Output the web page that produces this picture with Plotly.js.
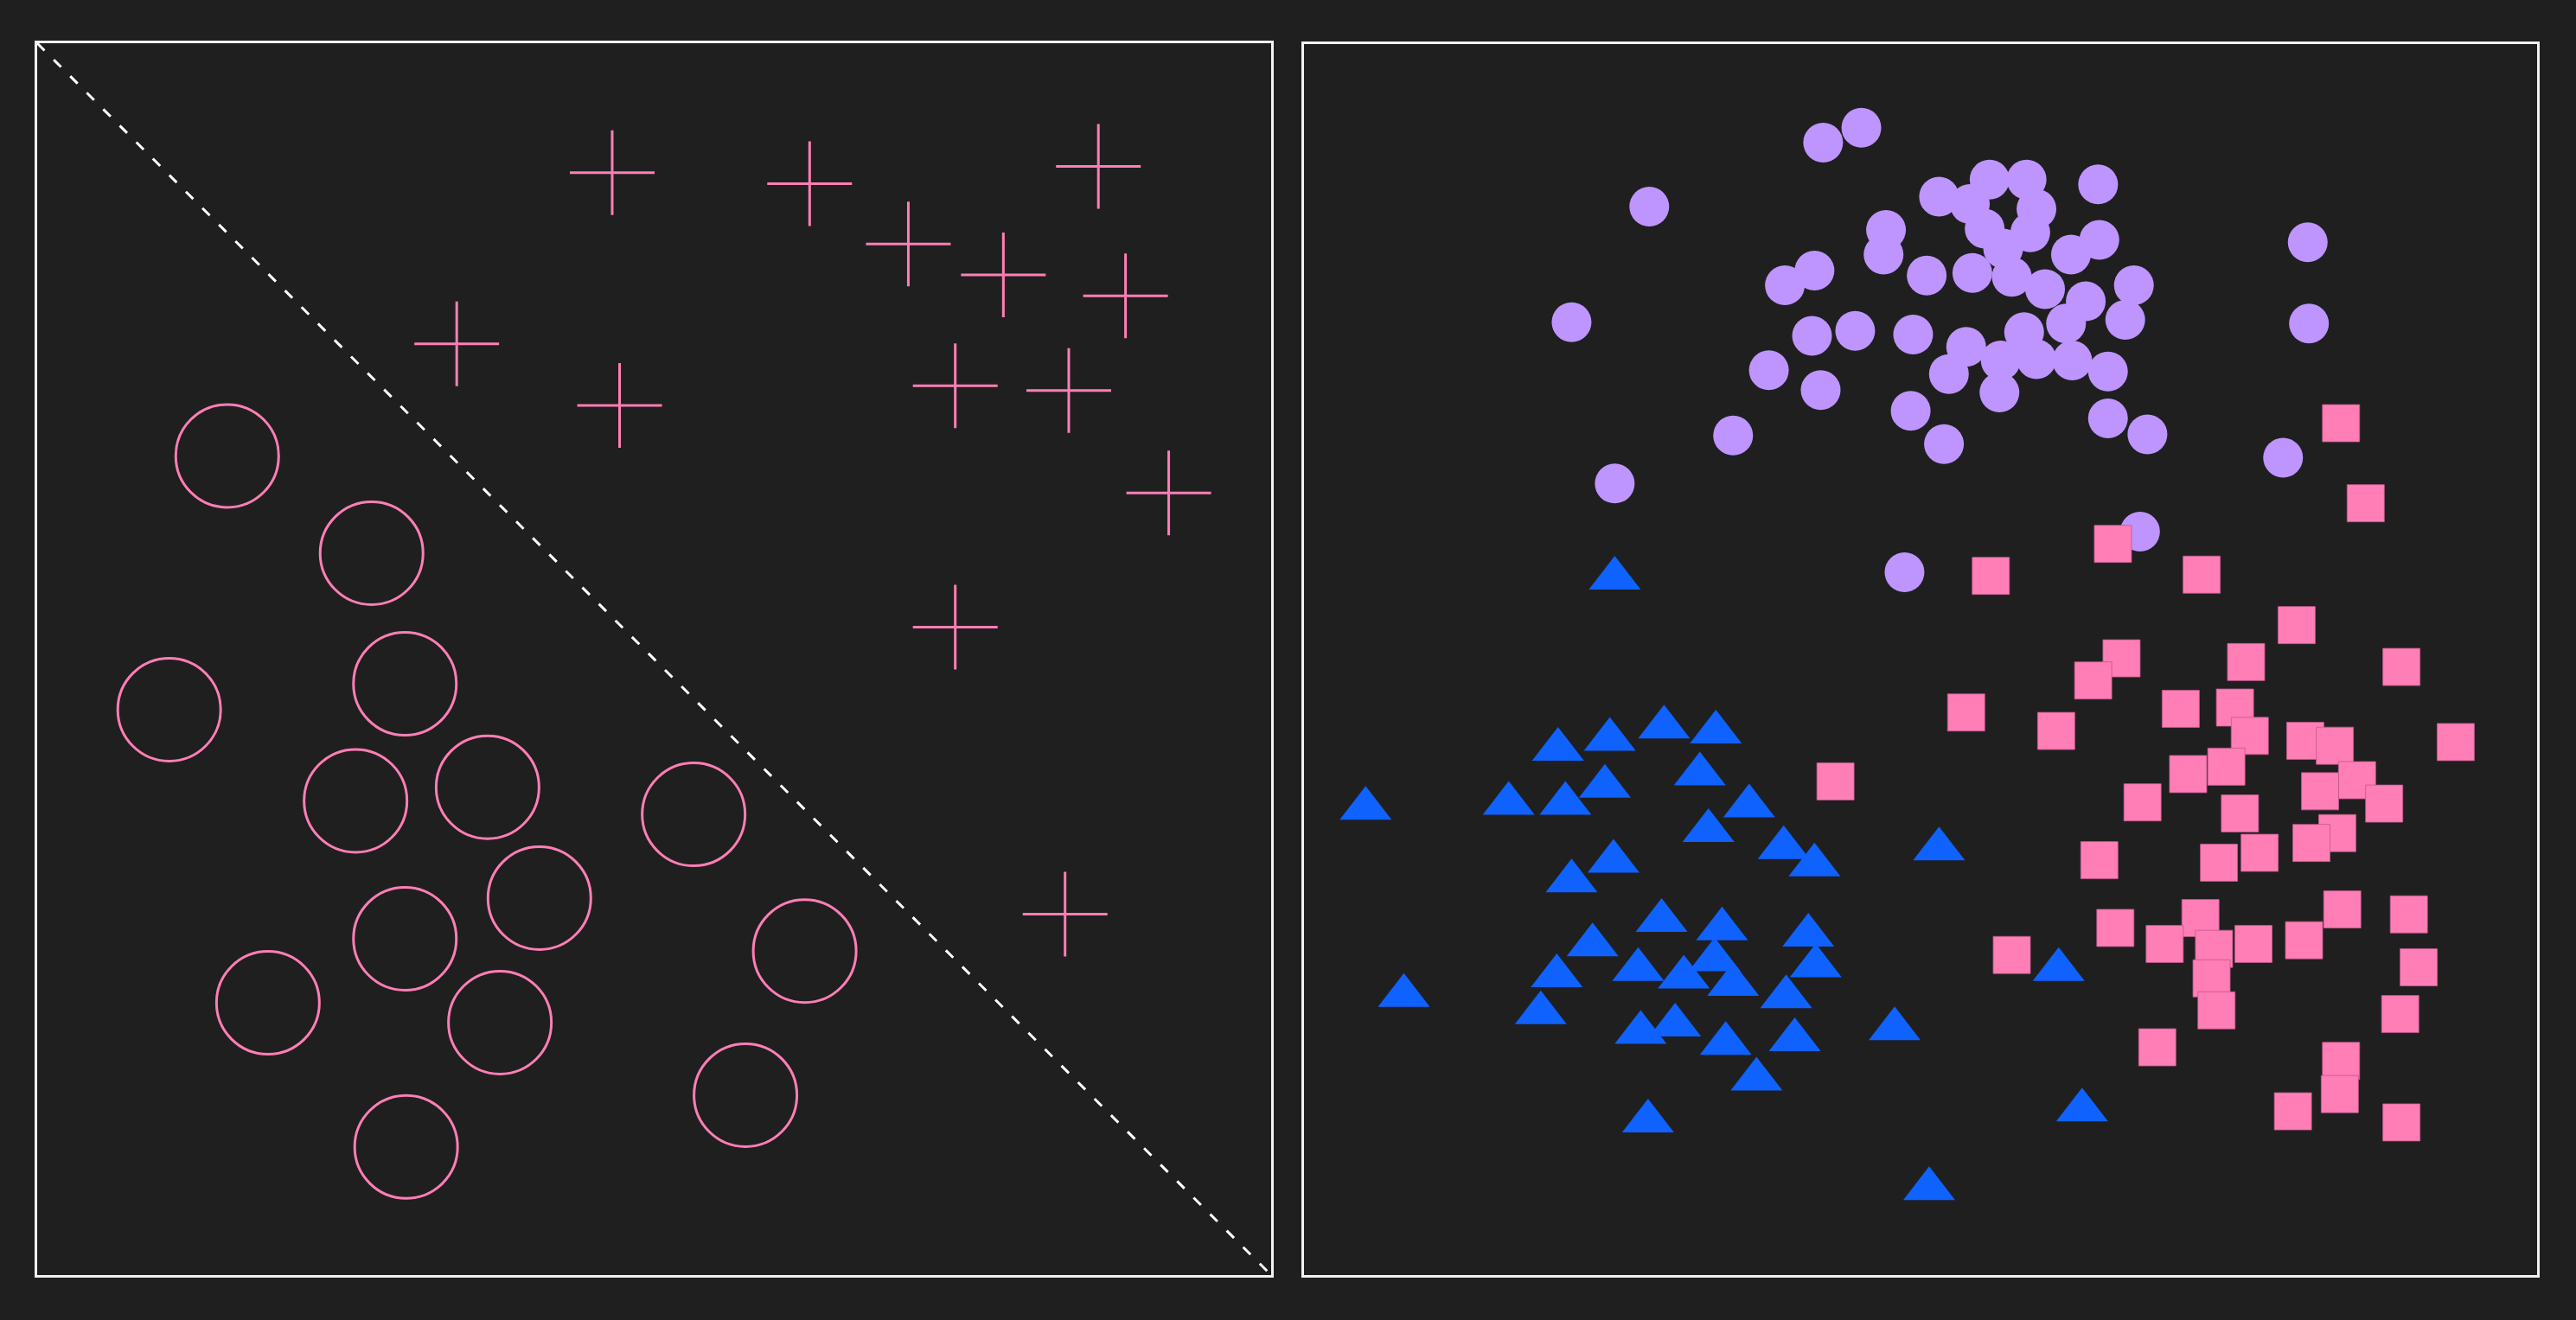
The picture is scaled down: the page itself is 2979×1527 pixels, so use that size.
<!DOCTYPE html>
<html>
<head>
<meta charset="utf-8">
<script src="https://cdn.plot.ly/plotly-3.0.1.min.js"></script>
<style>html,body{margin:0;padding:0;background:#1f1f1f;}#chart{width:2979px;height:1527px;}</style>
</head>
<body>
<div id="chart"></div>
<script>
// ---- Left panel: separable classes ----
const crossX = [4.66, 6.26, 8.60, 7.06, 7.83, 8.82, 3.40, 4.72, 7.44, 8.36, 9.17, 7.44, 8.33];
const crossY = [8.95, 8.86, 9.00, 8.37, 8.12, 7.95, 7.56, 7.06, 7.22, 7.18, 6.35, 5.26, 2.93];
const ringX  = [1.54, 2.71, 1.07, 2.98, 2.58, 3.65, 5.32, 4.07, 2.98, 1.87, 3.75, 6.22, 5.74, 2.99];
const ringY  = [6.65, 5.86, 4.59, 4.80, 3.85, 3.96, 3.74, 3.06, 2.73, 2.21, 2.05, 2.63, 1.46, 1.04];
const boundaryX = [0, 10];
const boundaryY = [10, 0];

// ---- Right panel: three clusters ----
const purpleX = [4.52, 4.21, 2.80, 5.56, 5.86, 5.15, 5.40, 6.44, 5.94, 4.72, 5.52, 5.89, 6.45, 5.67, 4.70, 6.22,
                 4.14, 3.90, 5.05, 5.42, 5.74, 6.01, 6.73, 6.34, 6.66, 6.18, 2.17, 4.12, 4.47, 4.94, 5.84, 5.37,
                 5.65, 5.94, 6.23, 5.23, 6.52, 3.77, 4.19, 5.64, 4.92, 6.52, 3.48, 5.19, 6.84, 8.14, 8.15, 7.94,
                 2.52, 6.78, 4.87];
const purpleY = [9.32, 9.20, 8.68, 8.90, 8.90, 8.76, 8.70, 8.86, 8.66, 8.49, 8.50, 8.47, 8.41, 8.34, 8.29, 8.29,
                 8.16, 8.04, 8.12, 8.14, 8.11, 8.01, 8.04, 7.91, 7.76, 7.73, 7.74, 7.63, 7.67, 7.64, 7.66, 7.54,
                 7.43, 7.44, 7.43, 7.32, 7.34, 7.35, 7.19, 7.17, 7.02, 6.96, 6.82, 6.75, 6.83, 8.39, 7.73, 6.64,
                 6.43, 6.04, 5.71];
const pinkX = [8.41, 8.61, 6.56, 5.57, 7.28, 8.05, 6.63, 6.40, 7.64, 8.90, 5.37, 6.10, 7.11, 7.55, 7.67, 8.12,
               8.36, 9.34, 7.17, 7.48, 8.54, 8.24, 8.76, 6.80, 7.59, 8.38, 8.17, 7.75, 7.42, 6.45, 8.42, 8.96,
               6.58, 7.27, 6.98, 7.38, 7.70, 8.11, 5.74, 9.04, 7.36, 7.40, 8.89, 6.92, 8.41, 8.40, 8.02, 8.90,
               4.31];
const pinkY = [6.92, 6.27, 5.94, 5.68, 5.69, 5.28, 5.01, 4.83, 4.98, 4.94, 4.57, 4.42, 4.60, 4.61, 4.38, 4.34,
               4.30, 4.33, 4.07, 4.13, 4.02, 3.93, 3.83, 3.84, 3.75, 3.59, 3.51, 3.43, 3.35, 3.37, 2.97, 2.93,
               2.82, 2.90, 2.69, 2.65, 2.69, 2.72, 2.60, 2.50, 2.41, 2.15, 2.12, 1.85, 1.74, 1.47, 1.33, 1.24,
               4.01];
const blueX = [2.52, 0.50, 2.06, 2.48, 2.92, 3.34, 3.21, 2.44, 1.66, 2.12, 3.61, 3.28, 3.89, 4.14, 5.15, 2.51,
               2.17, 2.90, 3.39, 4.09, 2.34, 3.33, 4.15, 2.05, 2.71, 3.08, 3.48, 3.91, 0.81, 1.92, 3.01, 2.73,
               3.42, 3.98, 4.79, 3.67, 2.79, 5.07, 6.12, 6.31];
const blueY = [5.66, 3.79, 4.27, 4.35, 4.45, 4.41, 4.07, 3.97, 3.83, 3.83, 3.81, 3.61, 3.47, 3.33, 3.46, 3.36,
               3.20, 2.88, 2.81, 2.76, 2.68, 2.56, 2.51, 2.43, 2.48, 2.42, 2.36, 2.26, 2.27, 2.13, 2.03, 1.97,
               1.88, 1.91, 2.00, 1.59, 1.25, 0.70, 2.48, 1.34];

const BG = '#1f1f1f';
const FRAME = '#f2f2f2';
const PINK = '#ff7eb6';
const PURPLE = '#be95ff';
const BLUE = '#0f62fe';

const traces = [
  {x: boundaryX, y: boundaryY, xaxis: 'x', yaxis: 'y', mode: 'lines',
   line: {color: '#ffffff', width: 3, dash: '12px,15px'}, hoverinfo: 'skip'},
  {x: ringX, y: ringY, xaxis: 'x', yaxis: 'y', mode: 'markers',
   marker: {symbol: 'circle-open', size: 119, color: PINK, line: {width: 3}}},
  {x: crossX, y: crossY, xaxis: 'x', yaxis: 'y', mode: 'markers',
   marker: {symbol: 'cross-thin-open', size: 70, color: PINK, line: {width: 3}}},
  {x: purpleX, y: purpleY, xaxis: 'x2', yaxis: 'y2', mode: 'markers',
   marker: {symbol: 'circle', size: 46, color: PURPLE, line: {width: 0}}},
  {x: pinkX, y: pinkY, xaxis: 'x2', yaxis: 'y2', mode: 'markers',
   marker: {symbol: 'square', size: 43, color: PINK, line: {width: 1, color: 'rgba(190,90,140,0.8)'}}},
  {x: blueX, y: blueY, xaxis: 'x2', yaxis: 'y2', mode: 'markers',
   marker: {symbol: 'triangle-up', size: 52, color: BLUE, line: {width: 0}}}
];

const axBase = {range: [0, 10], showgrid: false, zeroline: false, showticklabels: false,
  ticks: '', showline: true, mirror: true, linecolor: FRAME, linewidth: 3, fixedrange: true};

const W = 2979, H = 1527;
const layout = {
  width: W, height: H,
  paper_bgcolor: BG, plot_bgcolor: BG,
  margin: {l: 0, r: 0, t: 0, b: 0, pad: 0},
  showlegend: false,
  xaxis: Object.assign({}, axBase, {domain: [43 / W, 1470 / W], anchor: 'y'}),
  yaxis: Object.assign({}, axBase, {domain: [52 / H, 1477 / H], anchor: 'x'}),
  xaxis2: Object.assign({}, axBase, {domain: [1508 / W, 2934 / W], anchor: 'y2'}),
  yaxis2: Object.assign({}, axBase, {domain: [52 / H, 1476 / H], anchor: 'x2'})
};

Plotly.newPlot('chart', traces, layout, {staticPlot: true, displayModeBar: false});
</script>
</body>
</html>
